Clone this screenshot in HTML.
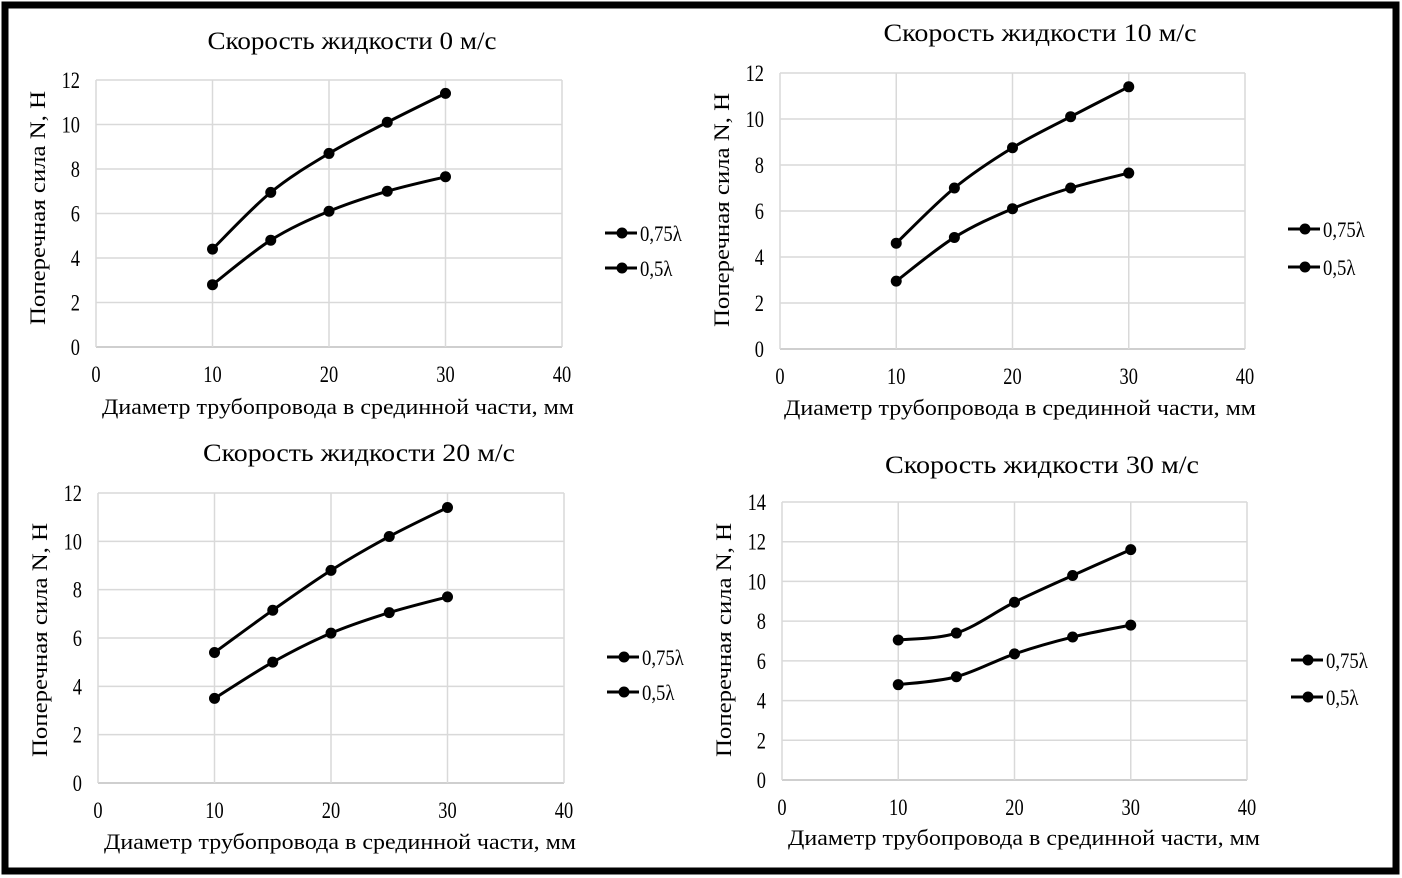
<!DOCTYPE html>
<html><head><meta charset="utf-8"><style>
html,body{margin:0;padding:0;background:#fff}
svg{display:block}
text{font-family:"Liberation Serif",serif;fill:#000}
</style></head><body>
<svg id="s" width="1402" height="878" xmlns="http://www.w3.org/2000/svg">
<rect x="5" y="5" width="1391" height="866" fill="none" stroke="#000" stroke-width="7"/>
</svg>
<script>
const S=document.getElementById('s');const NS='http://www.w3.org/2000/svg';
function el(t,a,txt){const e=document.createElementNS(NS,t);for(const k in a)e.setAttribute(k,a[k]);if(txt!==undefined)e.textContent=txt;S.appendChild(e);return e;}
function path(pts){let d='M'+pts[0][0]+','+pts[0][1];for(let i=0;i<pts.length-1;i++){const p0=pts[Math.max(i-1,0)],p1=pts[i],p2=pts[i+1],p3=pts[Math.min(i+2,pts.length-1)];const t=6;d+=' C'+(p1[0]+(p2[0]-p0[0])/t)+','+(p1[1]+(p2[1]-p0[1])/t)+' '+(p2[0]-(p3[0]-p1[0])/t)+','+(p2[1]-(p3[1]-p1[1])/t)+' '+p2[0]+','+p2[1];}return d;}
const charts=[
{x0:96,x1:562,y0:347,y1:80,ymax:12,title:'Скорость жидкости 0 м/с',tl:289,tx:352,ty:49,xt:[338,414],yt:[38,208],lg:[605,233,268],a:[4.4,6.95,8.7,10.1,11.4],b:[2.8,4.8,6.1,7.0,7.65]},
{x0:780,x1:1245,y0:349,y1:73,ymax:12,title:'Скорость жидкости 10 м/с',tl:313,tx:1040,ty:41,xt:[1020,415],yt:[722,210],lg:[1288,229,267],a:[4.6,7.0,8.75,10.1,11.4],b:[2.95,4.85,6.1,7.0,7.65]},
{x0:98,x1:564,y0:783,y1:493,ymax:12,title:'Скорость жидкости 20 м/с',tl:312,tx:359,ty:461,xt:[340,849],yt:[40,640],lg:[607,657,692],a:[5.4,7.15,8.8,10.2,11.4],b:[3.5,5.0,6.2,7.05,7.7]},
{x0:782,x1:1247,y0:780,y1:502,ymax:14,title:'Скорость жидкости 30 м/с',tl:314,tx:1042,ty:473,xt:[1024,845],yt:[724,640],lg:[1291,660,697],a:[7.05,7.4,8.95,10.3,11.6],b:[4.8,5.2,6.35,7.2,7.8]}];
function ct(x,y,s,anchor,size,sx){el('text',{x:0,y:0,'text-anchor':anchor,'font-size':size,transform:`translate(${x},${y}) scale(${sx},1)`},s);}
for(const c of charts){
 const X=v=>c.x0+(c.x1-c.x0)*v/40, Y=v=>c.y0+(c.y1-c.y0)*v/c.ymax;
 for(let v=0;v<=c.ymax;v+=2){el('line',{x1:c.x0,x2:c.x1,y1:Y(v),y2:Y(v),stroke:v?'#d9d9d9':'#bfbfbf','stroke-width':1.5});ct(c.x0-16,Y(v)+8,String(v),'end',23,0.8);}
 for(let v=0;v<=40;v+=10){if(v)el('line',{x1:X(v),x2:X(v),y1:c.y0,y2:c.y1,stroke:'#d9d9d9','stroke-width':1.5});ct(X(v),c.y0+35,String(v),'middle',23,0.8);}
 el('line',{x1:c.x0,x2:c.x0,y1:c.y0,y2:c.y1,stroke:'#d9d9d9','stroke-width':1.5});
 for(const s of [c.a,c.b]){const pts=s.map((v,i)=>[X(10+5*i),Y(v)]);el('path',{d:path(pts),fill:'none',stroke:'#000','stroke-width':3});for(const p of pts)el('circle',{cx:p[0],cy:p[1],r:5.5,fill:'#000'});}
 el('text',{x:c.tx,y:c.ty,'text-anchor':'middle','font-size':25,textLength:c.tl,lengthAdjust:'spacingAndGlyphs'},c.title);
 el('text',{x:c.xt[0],y:c.xt[1],'text-anchor':'middle','font-size':22,textLength:472,lengthAdjust:'spacingAndGlyphs'},'Диаметр трубопровода в срединной части, мм');
 el('text',{x:0,y:0,'text-anchor':'middle','font-size':22,textLength:234,lengthAdjust:'spacingAndGlyphs',transform:`translate(${c.yt[0]+7},${c.yt[1]}) rotate(-90)`},'Поперечная сила N, Н');
 const [lx,l1,l2]=c.lg;
 for(const [yy,t] of [[l1,'0,75λ'],[l2,'0,5λ']]){el('line',{x1:lx,x2:lx+32,y1:yy,y2:yy,stroke:'#000','stroke-width':3});el('circle',{cx:lx+17,cy:yy,r:5.5,fill:'#000'});ct(lx+35,yy+8,t,'start',22,0.85);}
}
</script>
</body></html>
